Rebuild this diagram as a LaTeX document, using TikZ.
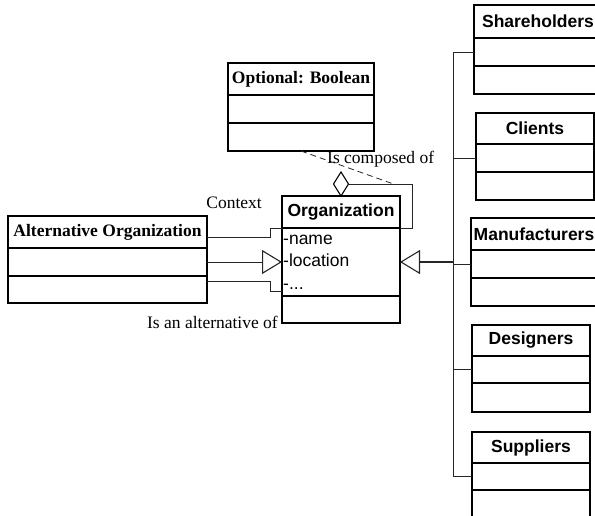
\documentclass[tikz,border=0pt]{standalone}
\usepackage{fontspec}
\setmainfont{Liberation Serif}
\setsansfont{Liberation Sans}
\usetikzlibrary{arrows.meta,shapes.geometric}

\begin{document}
\begin{tikzpicture}[x=1pt, y=-1pt,
    box/.style={draw, rectangle, line width=1.1pt, inner sep=0pt, outer sep=0pt},
    hdr/.style={box, anchor=north west, font=\fontsize{17.5}{21}\selectfont\sffamily\bfseries},
    shdr/.style={box, anchor=north west, font=\fontsize{17.5}{21}\selectfont\bfseries},
    cmp/.style={box, anchor=north},
    attr/.style={inner sep=0pt, align=left, font=\fontsize{17.5}{22.5}\selectfont\sffamily},
    lbl/.style={inner sep=0pt, font=\fontsize{17.5}{21}\selectfont},
    conn/.style={line width=0.8pt, black!85},
    gen/.style={conn, -{Triangle[open, length=20pt, width=24pt, line width=1.1pt]}}]
    \useasboundingbox (0,0) rectangle (595,516);

    % Optional: Boolean
    \node[shdr, minimum width=146pt, minimum height=32pt] (opt) at (228,63) {Optional: Boolean};
    \node[cmp, minimum width=146pt, minimum height=28pt] (opt-a) at (opt.south) {};
    \node[cmp, minimum width=146pt, minimum height=28pt] (opt-b) at (opt-a.south) {};

    % Organization
    \node[hdr, minimum width=118pt, minimum height=32pt] (org) at (282,196) {Organization};
    \node[cmp, minimum width=118pt, minimum height=68pt] (org-a) at (org.south) {};
    \node[cmp, minimum width=118pt, minimum height=27pt] (org-b) at (org-a.south) {};
    \node[attr, anchor=west] (org-attr) at ([xshift=1pt]org-a.west) {-name\\-location\\-...};

    % Alternative Organization
    \node[shdr, minimum width=199pt, minimum height=32pt] (alt) at (8,216) {Alternative Organization};
    \node[cmp, minimum width=199pt, minimum height=28pt] (alt-a) at (alt.south) {};
    \node[cmp, minimum width=199pt, minimum height=27pt] (alt-b) at (alt-a.south) {};

    % Roles on the right
    \node[hdr, minimum width=128pt, minimum height=33pt] (sh) at (474,5) {Shareholders};
    \node[cmp, minimum width=128pt, minimum height=28pt] (sh-a) at (sh.south) {};
    \node[cmp, minimum width=128pt, minimum height=28pt] (sh-b) at (sh-a.south) {};

    \node[hdr, minimum width=118pt, minimum height=31pt] (cl) at (476,113) {Clients};
    \node[cmp, minimum width=118pt, minimum height=28pt] (cl-a) at (cl.south) {};
    \node[cmp, minimum width=118pt, minimum height=28pt] (cl-b) at (cl-a.south) {};

    \node[hdr, minimum width=126pt, minimum height=32pt] (mf) at (471,218) {Manufacturers};
    \node[cmp, minimum width=126pt, minimum height=28pt] (mf-a) at (mf.south) {};
    \node[cmp, minimum width=126pt, minimum height=28pt] (mf-b) at (mf-a.south) {};

    \node[hdr, minimum width=118pt, minimum height=31pt] (ds) at (472,325) {Designers};
    \node[cmp, minimum width=118pt, minimum height=27pt] (ds-a) at (ds.south) {};
    \node[cmp, minimum width=118pt, minimum height=29pt] (ds-b) at (ds-a.south) {};

    \node[hdr, minimum width=118pt, minimum height=31pt] (sp) at (472,432) {Suppliers};
    \node[cmp, minimum width=118pt, minimum height=27pt] (sp-a) at (sp.south) {};
    \node[cmp, minimum width=118pt, minimum height=28pt] (sp-b) at (sp-a.south) {};

    % Composition
    \node[draw, diamond, line width=1.1pt, inner sep=0pt, outer sep=0pt,
          minimum width=15pt, minimum height=24pt, anchor=south] (agg) at (org.north) {};
    \draw[conn] (org.south east) -- ++(12,0) |- (agg.east);
    \coordinate (cj) at ([xshift=45pt]agg.east);
    \draw[conn, dash pattern=on 6pt off 4pt] (opt-b.south) -- (cj);
    \node[lbl, anchor=west] (comp) at (327,159) {Is composed of};

    % Context and alternative
    \draw[conn] ([yshift=-5pt]alt.east) -- ++(63,0) |- (org.south west);
    \node[lbl, anchor=east] (ctx) at ([xshift=-20pt, yshift=-7pt]org.north west) {Context};
    \draw[gen] (alt-a.east) -- (org-a.west);
    \draw[conn] ([yshift=8pt]alt-b.east) -- ++(63,0) |- ([yshift=5pt]org-a.south west);
    \node[lbl, anchor=east] (alt-lbl) at ([xshift=-4pt, yshift=1pt]org-b.south west) {Is an alternative of};

    % Generalization
    \coordinate (bus) at (453,262);
    \draw[gen, line width=1.6pt] (bus) -- (org-a.east);
    \draw[conn] (sh-a.west -| bus) -- (sp-a.west -| bus);
    \foreach \c in {sh,cl,mf,ds,sp}
        \draw[conn] (\c-a.west) -- (\c-a.west -| bus);
\end{tikzpicture}
\end{document}
